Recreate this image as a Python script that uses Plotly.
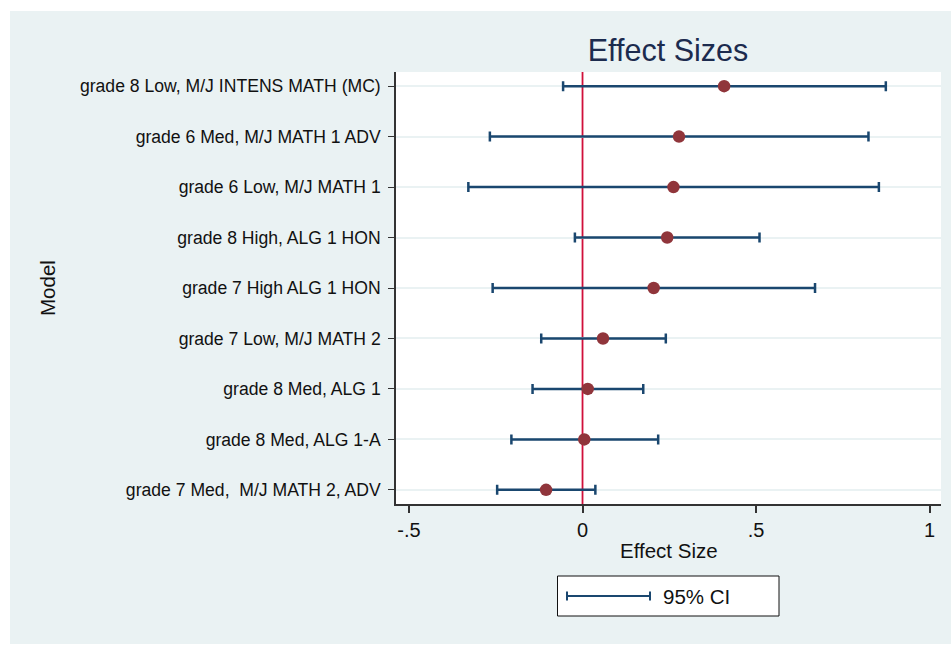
import plotly.graph_objects as go

# ---------------- data ----------------
models = [
    "grade 8 Low, M/J INTENS MATH (MC)",
    "grade 6 Med, M/J MATH 1 ADV",
    "grade 6 Low, M/J MATH 1",
    "grade 8 High, ALG 1 HON",
    "grade 7 High ALG 1 HON",
    "grade 7 Low, M/J MATH 2",
    "grade 8 Med, ALG 1",
    "grade 8 Med, ALG 1-A",
    "grade 7 Med,  M/J MATH 2, ADV",
]
effect = [0.408, 0.278, 0.262, 0.244, 0.205, 0.059, 0.015, 0.005, -0.105]
ci_low = [-0.056, -0.267, -0.329, -0.022, -0.259, -0.119, -0.144, -0.205, -0.246]
ci_high = [0.874, 0.824, 0.854, 0.510, 0.670, 0.240, 0.175, 0.218, 0.037]
x_ticks = [-0.5, 0, 0.5, 1]
x_tick_labels = ["-.5", "0", ".5", "1"]
reference_x = 0

# ---------------- styles ----------------
BG = "#EAF2F3"
NAVY = "#1A476F"
MAROON = "#90353B"
RED = "#D0103A"
TITLE_C = "#1C2B4E"
FONT = "Liberation Sans, Arial, sans-serif"

W, H = 951, 645
ML, MR, MT, MB = 396, 10, 72, 141
PW, PH = W - ML - MR, H - MT - MB


def px_x(p):
    return (p - ML) / PW


def px_y(p):
    return (H - MB - p) / PH


fig = go.Figure()

# CI bars
fig.add_trace(go.Scatter(
    x=effect, y=models, mode="markers",
    marker=dict(size=1, color="rgba(0,0,0,0)"),
    error_x=dict(type="data", symmetric=False,
                 array=[h - e for h, e in zip(ci_high, effect)],
                 arrayminus=[e - l for e, l in zip(effect, ci_low)],
                 color=NAVY, thickness=2.5, width=5),
    showlegend=False, hoverinfo="skip",
))
# point estimates
fig.add_trace(go.Scatter(
    x=effect, y=models, mode="markers",
    marker=dict(size=12.5, color=MAROON, line=dict(width=0)),
    showlegend=False,
))

shapes = [
    # outer light background panel
    dict(type="rect", xref="paper", yref="paper", layer="below",
         x0=px_x(10), x1=px_x(W), y0=px_y(644), y1=px_y(11),
         fillcolor=BG, line=dict(width=0)),
    # white plot region
    dict(type="rect", xref="paper", yref="paper", layer="below",
         x0=0, x1=1, y0=0, y1=1, fillcolor="white", line=dict(width=0)),
    # reference line
    dict(type="line", xref="x", yref="paper", layer="below",
         x0=reference_x, x1=reference_x, y0=0, y1=1,
         line=dict(color=RED, width=1.8)),
    # legend box
    dict(type="rect", xref="paper", yref="paper", layer="above",
         x0=px_x(557.5), x1=px_x(779), y0=px_y(616), y1=px_y(576),
         fillcolor="white", line=dict(color="#111", width=1)),
    # legend sample
    dict(type="line", xref="paper", yref="paper", layer="above",
         x0=px_x(567), x1=px_x(650), y0=px_y(596), y1=px_y(596),
         line=dict(color=NAVY, width=2)),
    dict(type="line", xref="paper", yref="paper", layer="above",
         x0=px_x(567), x1=px_x(567), y0=px_y(591.5), y1=px_y(600.5),
         line=dict(color=NAVY, width=2)),
    dict(type="line", xref="paper", yref="paper", layer="above",
         x0=px_x(650), x1=px_x(650), y0=px_y(591.5), y1=px_y(600.5),
         line=dict(color=NAVY, width=2)),
]

annotations = [
    dict(text="95% CI", xref="paper", yref="paper", x=px_x(661), y=px_y(596.5),
         xanchor="left", yanchor="middle", showarrow=False,
         font=dict(family=FONT, size=20.5, color="#111")),
    dict(text="Model", xref="paper", yref="paper", x=px_x(47), y=px_y(288),
         xanchor="center", yanchor="middle", textangle=-90, showarrow=False,
         font=dict(family=FONT, size=20.5, color="#111")),
    dict(text="Effect Size", xref="paper", yref="paper", x=px_x(668.5), y=px_y(550),
         xanchor="center", yanchor="middle", showarrow=False,
         font=dict(family=FONT, size=20.5, color="#111")),
]

n = len(models)
fig.update_layout(
    width=W, height=H,
    margin=dict(l=ML, r=MR, t=MT, b=MB, autoexpand=False),
    paper_bgcolor="white", plot_bgcolor="white",
    title=dict(text="Effect Sizes", xref="paper", x=px_x(668), xanchor="center",
               yref="container", y=1 - 50 / H, yanchor="middle",
               font=dict(family=FONT, size=30.5, color=TITLE_C)),
    shapes=shapes, annotations=annotations,
    showlegend=False,
    xaxis=dict(range=[-0.5375, 1.033], tickvals=x_ticks, ticktext=x_tick_labels,
               showgrid=False, zeroline=False, showline=True, linecolor="#333",
               linewidth=1.5, ticks="outside", ticklen=7, tickwidth=1.5,
               tickcolor="#333", tickfont=dict(family=FONT, size=20, color="#111")),
    yaxis=dict(type="category", categoryorder="array", categoryarray=models,
               range=[n - 1 + 0.28, -0.28], showgrid=True, gridcolor=BG, gridwidth=2,
               zeroline=False, showline=True, linecolor="#333", linewidth=1.5,
               ticks="outside", ticklen=6, tickwidth=1.2, tickcolor="#333",
               ticklabelstandoff=4,
               tickfont=dict(family=FONT, size=17.6, color="#111")),
    font=dict(family=FONT),
)

fig.write_html("out.html", config={"displayModeBar": False},
               post_script="document.body.style.margin='0';document.body.style.padding='0';")
